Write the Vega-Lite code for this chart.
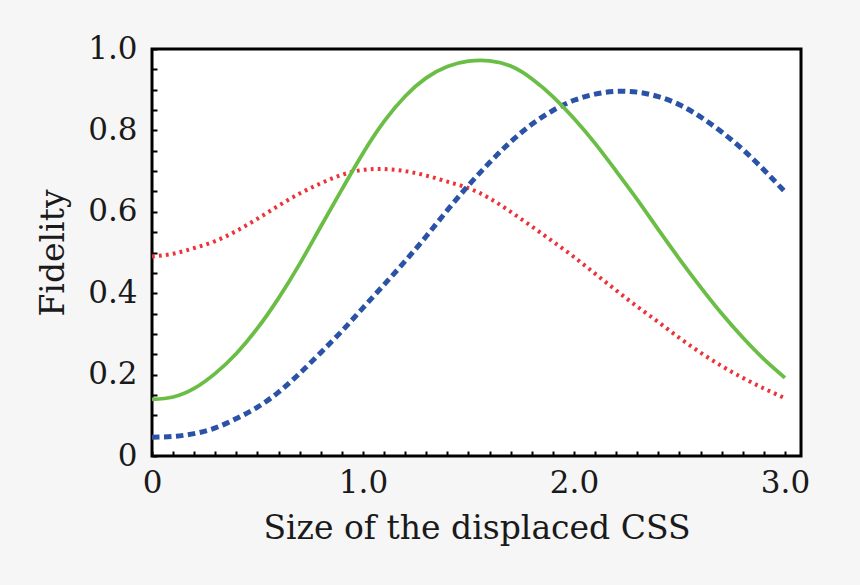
{
  "$schema": "https://vega.github.io/schema/vega-lite/v6.json",
  "width": 649,
  "height": 407,
  "autosize": "none",
  "padding": {"left": 152, "top": 49, "right": 59, "bottom": 129},
  "background": "#f6f6f6",
  "data": {
    "values": [
      {"size": 0.0, "fidelity": 0.139, "curve": "green"},
      {"size": 0.1, "fidelity": 0.145, "curve": "green"},
      {"size": 0.2, "fidelity": 0.166, "curve": "green"},
      {"size": 0.3, "fidelity": 0.203, "curve": "green"},
      {"size": 0.4, "fidelity": 0.252, "curve": "green"},
      {"size": 0.5, "fidelity": 0.314, "curve": "green"},
      {"size": 0.6, "fidelity": 0.388, "curve": "green"},
      {"size": 0.7, "fidelity": 0.472, "curve": "green"},
      {"size": 0.8, "fidelity": 0.564, "curve": "green"},
      {"size": 0.9, "fidelity": 0.655, "curve": "green"},
      {"size": 1.0, "fidelity": 0.744, "curve": "green"},
      {"size": 1.1, "fidelity": 0.822, "curve": "green"},
      {"size": 1.2, "fidelity": 0.884, "curve": "green"},
      {"size": 1.3, "fidelity": 0.929, "curve": "green"},
      {"size": 1.4, "fidelity": 0.957, "curve": "green"},
      {"size": 1.5, "fidelity": 0.97, "curve": "green"},
      {"size": 1.6, "fidelity": 0.971, "curve": "green"},
      {"size": 1.7, "fidelity": 0.958, "curve": "green"},
      {"size": 1.8, "fidelity": 0.927, "curve": "green"},
      {"size": 1.9, "fidelity": 0.883, "curve": "green"},
      {"size": 2.0, "fidelity": 0.829, "curve": "green"},
      {"size": 2.1, "fidelity": 0.768, "curve": "green"},
      {"size": 2.2, "fidelity": 0.7, "curve": "green"},
      {"size": 2.3, "fidelity": 0.63, "curve": "green"},
      {"size": 2.4, "fidelity": 0.556, "curve": "green"},
      {"size": 2.5, "fidelity": 0.484, "curve": "green"},
      {"size": 2.6, "fidelity": 0.415, "curve": "green"},
      {"size": 2.7, "fidelity": 0.35, "curve": "green"},
      {"size": 2.8, "fidelity": 0.291, "curve": "green"},
      {"size": 2.9, "fidelity": 0.238, "curve": "green"},
      {"size": 3.0, "fidelity": 0.192, "curve": "green"},
      {"size": 0.0, "fidelity": 0.49, "curve": "red"},
      {"size": 0.1, "fidelity": 0.497, "curve": "red"},
      {"size": 0.2, "fidelity": 0.511, "curve": "red"},
      {"size": 0.3, "fidelity": 0.528, "curve": "red"},
      {"size": 0.4, "fidelity": 0.553, "curve": "red"},
      {"size": 0.5, "fidelity": 0.583, "curve": "red"},
      {"size": 0.6, "fidelity": 0.615, "curve": "red"},
      {"size": 0.7, "fidelity": 0.645, "curve": "red"},
      {"size": 0.8, "fidelity": 0.67, "curve": "red"},
      {"size": 0.9, "fidelity": 0.691, "curve": "red"},
      {"size": 1.0, "fidelity": 0.703, "curve": "red"},
      {"size": 1.1, "fidelity": 0.705, "curve": "red"},
      {"size": 1.2, "fidelity": 0.7, "curve": "red"},
      {"size": 1.3, "fidelity": 0.689, "curve": "red"},
      {"size": 1.4, "fidelity": 0.674, "curve": "red"},
      {"size": 1.5, "fidelity": 0.658, "curve": "red"},
      {"size": 1.6, "fidelity": 0.633, "curve": "red"},
      {"size": 1.7, "fidelity": 0.6, "curve": "red"},
      {"size": 1.8, "fidelity": 0.564, "curve": "red"},
      {"size": 1.9, "fidelity": 0.527, "curve": "red"},
      {"size": 2.0, "fidelity": 0.489, "curve": "red"},
      {"size": 2.1, "fidelity": 0.448, "curve": "red"},
      {"size": 2.2, "fidelity": 0.407, "curve": "red"},
      {"size": 2.3, "fidelity": 0.367, "curve": "red"},
      {"size": 2.4, "fidelity": 0.329, "curve": "red"},
      {"size": 2.5, "fidelity": 0.29, "curve": "red"},
      {"size": 2.6, "fidelity": 0.254, "curve": "red"},
      {"size": 2.7, "fidelity": 0.221, "curve": "red"},
      {"size": 2.8, "fidelity": 0.192, "curve": "red"},
      {"size": 2.9, "fidelity": 0.166, "curve": "red"},
      {"size": 3.0, "fidelity": 0.142, "curve": "red"},
      {"size": 0.0, "fidelity": 0.046, "curve": "blue"},
      {"size": 0.1, "fidelity": 0.048, "curve": "blue"},
      {"size": 0.2, "fidelity": 0.055, "curve": "blue"},
      {"size": 0.3, "fidelity": 0.069, "curve": "blue"},
      {"size": 0.4, "fidelity": 0.092, "curve": "blue"},
      {"size": 0.5, "fidelity": 0.12, "curve": "blue"},
      {"size": 0.6, "fidelity": 0.157, "curve": "blue"},
      {"size": 0.7, "fidelity": 0.203, "curve": "blue"},
      {"size": 0.8, "fidelity": 0.254, "curve": "blue"},
      {"size": 0.9, "fidelity": 0.307, "curve": "blue"},
      {"size": 1.0, "fidelity": 0.364, "curve": "blue"},
      {"size": 1.1, "fidelity": 0.421, "curve": "blue"},
      {"size": 1.2, "fidelity": 0.479, "curve": "blue"},
      {"size": 1.3, "fidelity": 0.54, "curve": "blue"},
      {"size": 1.4, "fidelity": 0.604, "curve": "blue"},
      {"size": 1.5, "fidelity": 0.665, "curve": "blue"},
      {"size": 1.6, "fidelity": 0.721, "curve": "blue"},
      {"size": 1.7, "fidelity": 0.772, "curve": "blue"},
      {"size": 1.8, "fidelity": 0.815, "curve": "blue"},
      {"size": 1.9, "fidelity": 0.849, "curve": "blue"},
      {"size": 2.0, "fidelity": 0.874, "curve": "blue"},
      {"size": 2.1, "fidelity": 0.889, "curve": "blue"},
      {"size": 2.2, "fidelity": 0.896, "curve": "blue"},
      {"size": 2.3, "fidelity": 0.894, "curve": "blue"},
      {"size": 2.4, "fidelity": 0.883, "curve": "blue"},
      {"size": 2.5, "fidelity": 0.863, "curve": "blue"},
      {"size": 2.6, "fidelity": 0.833, "curve": "blue"},
      {"size": 2.7, "fidelity": 0.796, "curve": "blue"},
      {"size": 2.8, "fidelity": 0.753, "curve": "blue"},
      {"size": 2.9, "fidelity": 0.703, "curve": "blue"},
      {"size": 3.0, "fidelity": 0.649, "curve": "blue"}
    ]
  },
  "encoding": {
    "x": {
      "field": "size",
      "type": "quantitative",
      "scale": {"domain": [0, 3.076], "nice": false, "zero": false},
      "axis": {
        "title": "Size of the displaced CSS",
        "values": [0, 0.1, 0.2, 0.3, 0.4, 0.5, 0.6, 0.7, 0.8, 0.9, 1, 1.1, 1.2, 1.3, 1.4, 1.5, 1.6, 1.7, 1.8, 1.9, 2, 2.1, 2.2, 2.3, 2.4, 2.5, 2.6, 2.7, 2.8, 2.9, 3],
        "labelExpr": "datum.value == 0 ? '0' : (datum.value == 1 || datum.value == 2 || datum.value == 3) ? format(datum.value, '.1f') : ''",
        "labelPadding": 17,
        "titleY": 82,
        "titleBaseline": "alphabetic"
      }
    },
    "y": {
      "field": "fidelity",
      "type": "quantitative",
      "scale": {"domain": [0, 1], "nice": false},
      "axis": {
        "title": "Fidelity",
        "values": [0, 0.05, 0.1, 0.15, 0.2, 0.25, 0.3, 0.35, 0.4, 0.45, 0.5, 0.55, 0.6, 0.65, 0.7, 0.75, 0.8, 0.85, 0.9, 0.95, 1],
        "labelExpr": "datum.value == 0 ? '0' : abs(datum.value * 5 - round(datum.value * 5)) < 0.001 ? format(datum.value, '.1f') : ''",
        "labelPadding": 20,
        "titleX": -99,
        "titleBaseline": "middle"
      }
    }
  },
  "layer": [
    {
      "transform": [{"filter": "datum.curve == 'red'"}],
      "mark": {"type": "line", "interpolate": "natural", "strokeCap": "butt", "color": "#ee3338", "strokeWidth": 4, "strokeDash": [2.8, 4.2]}
    },
    {
      "transform": [{"filter": "datum.curve == 'blue'"}],
      "mark": {"type": "line", "interpolate": "natural", "strokeCap": "butt", "color": "#2a52a6", "strokeWidth": 5, "strokeDash": [7.5, 4.5]}
    },
    {
      "transform": [{"filter": "datum.curve == 'green'"}],
      "mark": {"type": "line", "interpolate": "natural", "strokeCap": "butt", "color": "#6bbe45", "strokeWidth": 3.8}
    }
  ],
  "config": {
    "view": {"fill": "white", "stroke": "black", "strokeWidth": 3},
    "axis": {
      "domain": false,
      "grid": false,
      "tickSize": -5,
      "tickWidth": 2,
      "tickColor": "black",
      "labelFont": "DejaVu Serif",
      "labelFontSize": 31,
      "labelColor": "#1a1a1a",
      "labelOverlap": false,
      "labelBound": false,
      "labelFlush": false,
      "titleFont": "DejaVu Serif",
      "titleFontSize": 33,
      "titleFontWeight": "normal",
      "titleColor": "#1a1a1a"
    }
  }
}
